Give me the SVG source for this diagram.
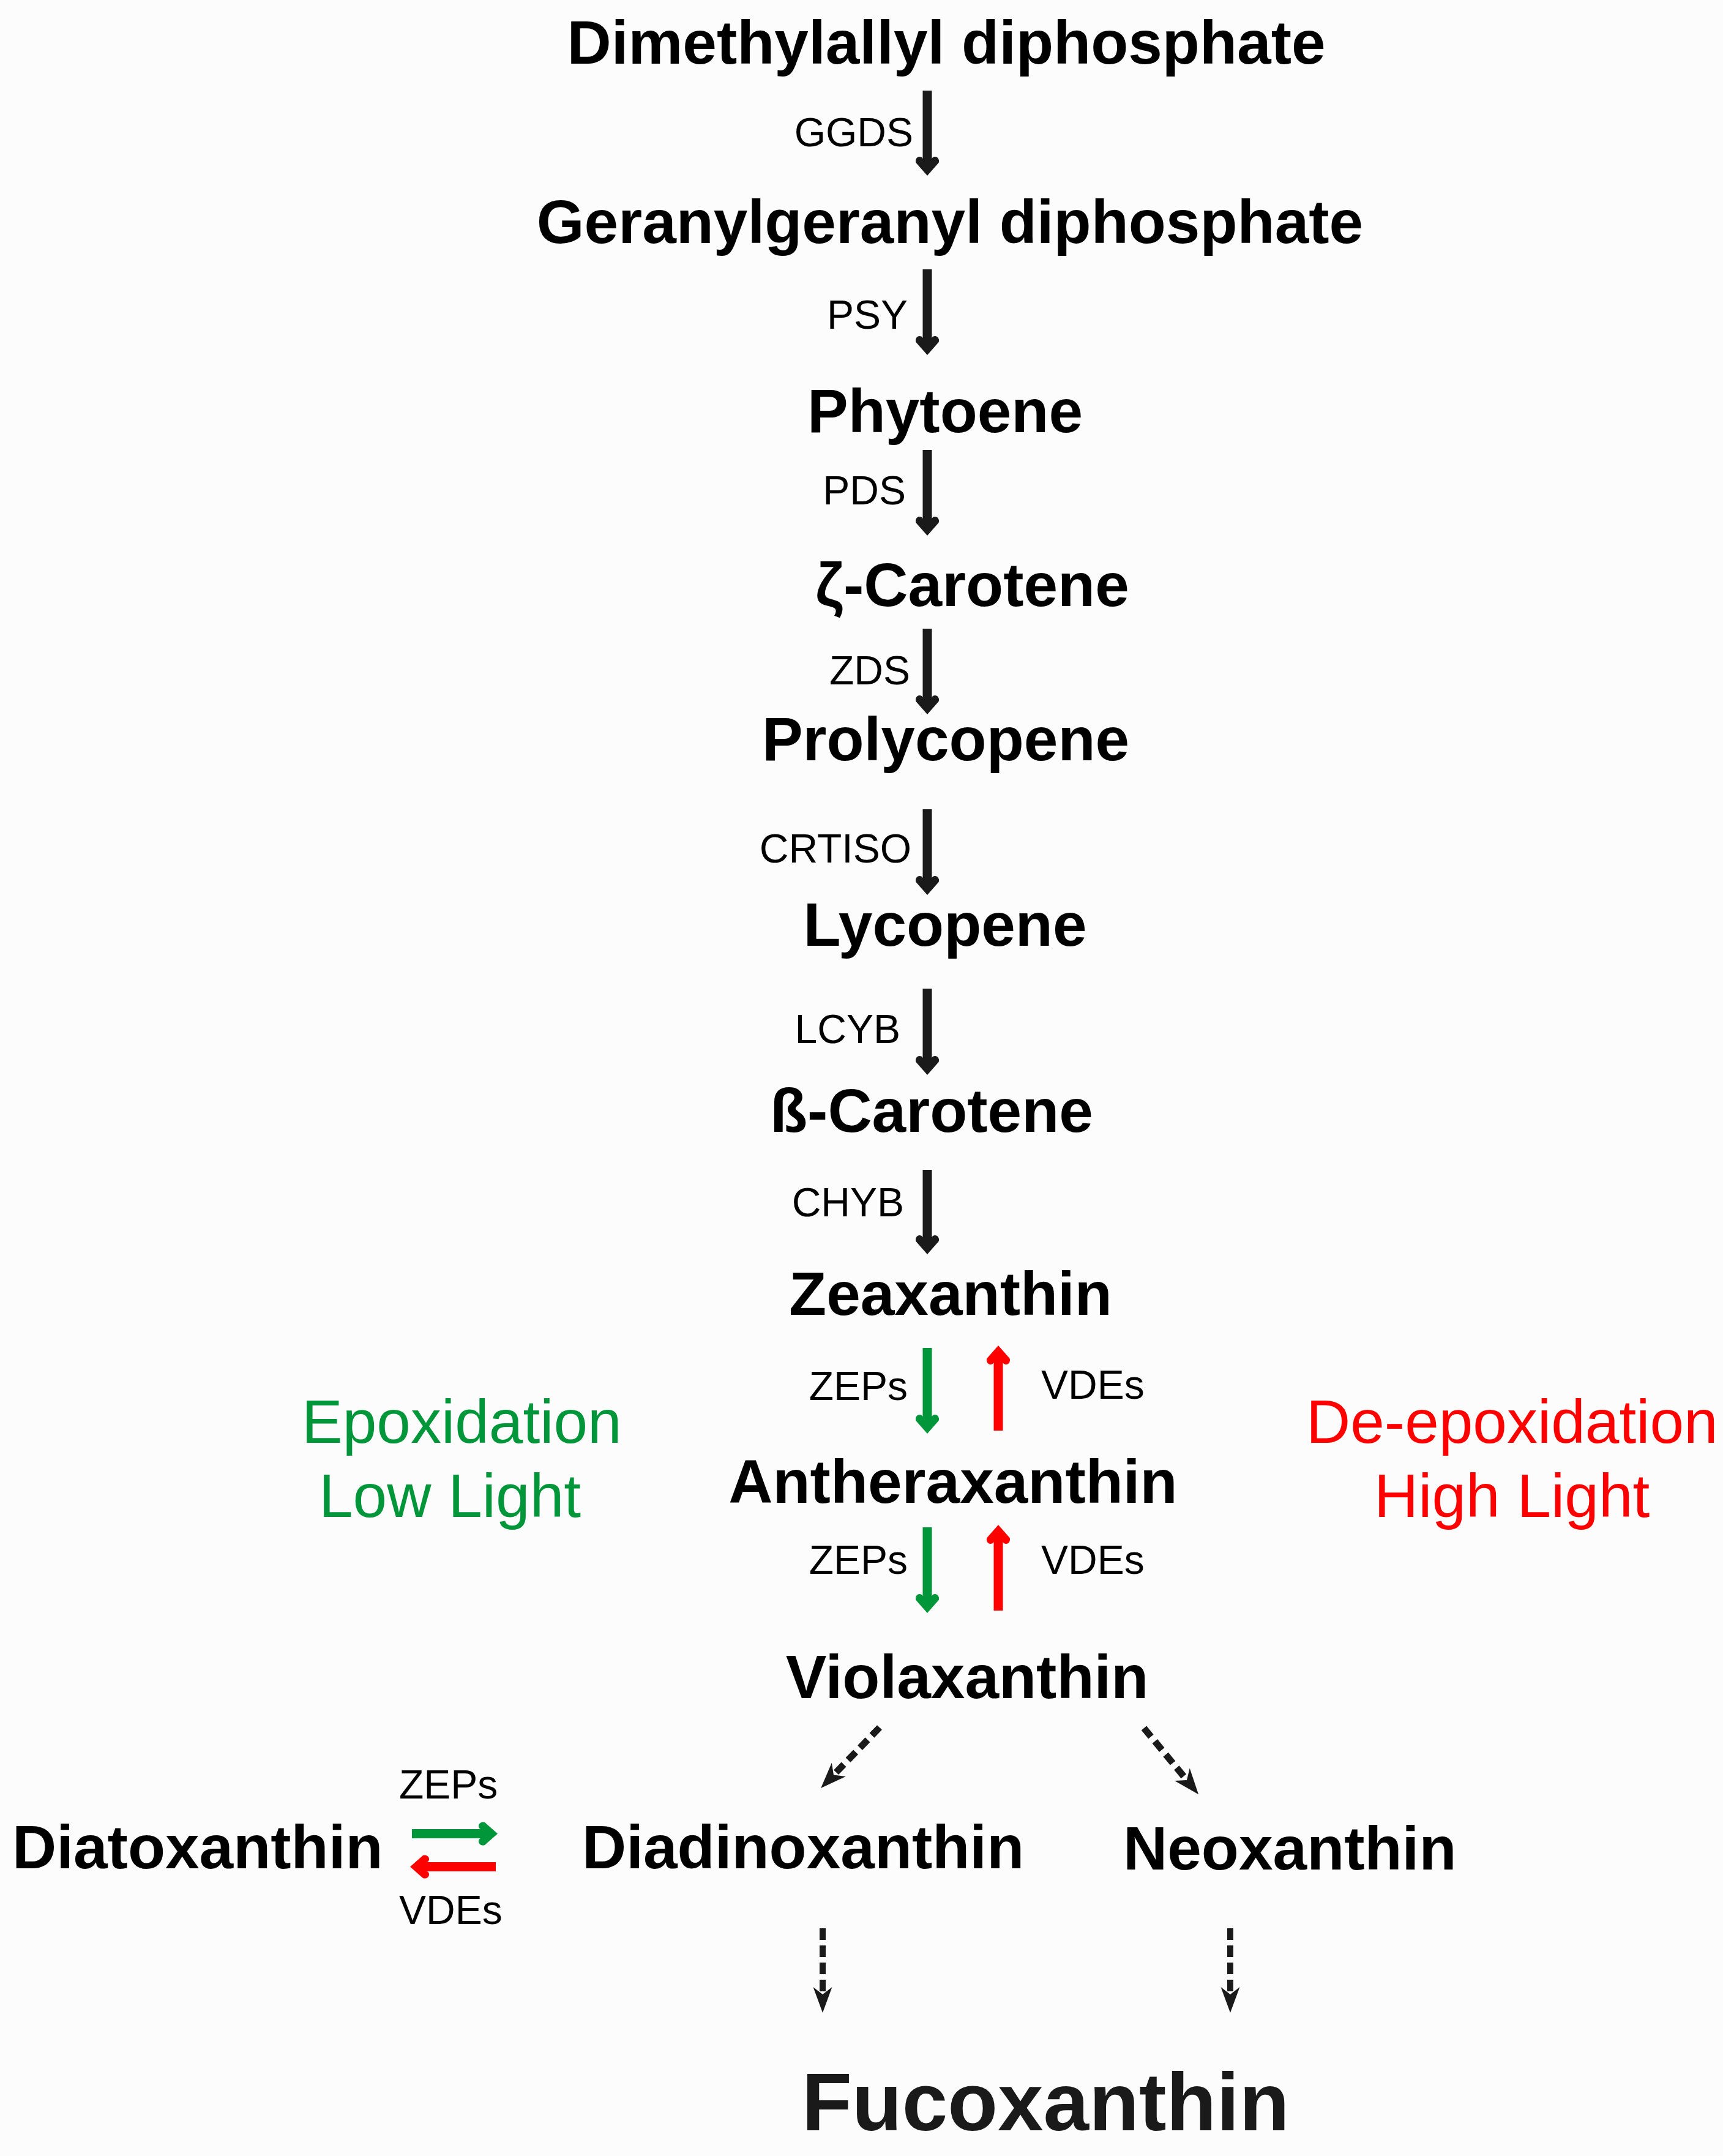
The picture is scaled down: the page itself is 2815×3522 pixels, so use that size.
<svg xmlns="http://www.w3.org/2000/svg" width="2815" height="3522" viewBox="0 0 2815 3522">
<style>
text{font-family:"Liberation Sans",Arial,Helvetica,sans-serif}
.c{font-weight:bold;font-size:100px;fill:#000}
.e{font-size:66px;fill:#000;text-anchor:end}
.s{font-size:66px;fill:#000}
.g{font-size:100px;fill:#009639}
.r{font-size:100px;fill:#ff0000}
.ab{stroke:#1a1a1a;stroke-width:15;fill:none;marker-end:url(#hb)}
.ag{stroke:#009639;stroke-width:15;fill:none;marker-end:url(#hg)}
.ar{stroke:#ff0000;stroke-width:15;fill:none;marker-end:url(#hr)}
.d{stroke:#1a1a1a;stroke-width:11;stroke-dasharray:18 10;fill:none;marker-end:url(#hd)}
.dv{stroke:#1a1a1a;stroke-width:10;stroke-dasharray:19 9;fill:none;marker-end:url(#hd2)}
</style>
<defs>
<marker id="hb" markerUnits="userSpaceOnUse" orient="auto" viewBox="-5 -25 45 50" markerWidth="45" markerHeight="50" refX="4" refY="0">
<path fill="#1a1a1a" d="M3,7.5 C0,9 -1,13 1,16 C3.5,19.5 8,19.5 10,18.5 L31,0 L10,-18.5 C8,-19.5 3.5,-19.5 1,-16 C-1,-13 0,-9 3,-7.5 Z"/>
</marker>
<marker id="hg" markerUnits="userSpaceOnUse" orient="auto" viewBox="-5 -25 45 50" markerWidth="45" markerHeight="50" refX="4" refY="0">
<path fill="#009639" d="M3,7.5 C0,9 -1,13 1,16 C3.5,19.5 8,19.5 10,18.5 L31,0 L10,-18.5 C8,-19.5 3.5,-19.5 1,-16 C-1,-13 0,-9 3,-7.5 Z"/>
</marker>
<marker id="hr" markerUnits="userSpaceOnUse" orient="auto" viewBox="-5 -25 45 50" markerWidth="45" markerHeight="50" refX="4" refY="0">
<path fill="#ff0000" d="M3,7.5 C0,9 -1,13 1,16 C3.5,19.5 8,19.5 10,18.5 L31,0 L10,-18.5 C8,-19.5 3.5,-19.5 1,-16 C-1,-13 0,-9 3,-7.5 Z"/>
</marker>
<marker id="hd" markerUnits="userSpaceOnUse" orient="auto" viewBox="-15 -20 50 40" markerWidth="50" markerHeight="40" refX="0" refY="0">
<path fill="#1a1a1a" d="M30,0 L-12,-16 L0,0 L-12,16 Z"/>
</marker>
<marker id="hd2" markerUnits="userSpaceOnUse" orient="auto" viewBox="-15 -20 50 40" markerWidth="50" markerHeight="40" refX="0" refY="0">
<path fill="#1a1a1a" d="M30,0 L-12,-15.5 L0,0 L-12,15.5 Z"/>
</marker>
</defs>
<rect x="0" y="0" width="2815" height="3522" fill="#fcfcfc"/>

<g id="n-dmapp"><text class="c" x="1546" y="104" text-anchor="middle">Dimethylallyl diphosphate</text></g>
<g id="n-ggpp"><text class="c" x="1552" y="397" text-anchor="middle">Geranylgeranyl diphosphate</text></g>
<g id="n-phytoene"><text class="c" x="1544" y="706" text-anchor="middle">Phytoene</text></g>
<g id="n-zcarotene"><text class="c" x="1332" y="990">ζ-Carotene</text></g>
<g id="n-prolycopene"><text class="c" x="1545" y="1242" text-anchor="middle">Prolycopene</text></g>
<g id="n-lycopene"><text class="c" x="1544" y="1545" text-anchor="middle">Lycopene</text></g>
<g id="n-bcarotene"><text class="c" x="1258" y="1849">ß-Carotene</text></g>
<g id="n-zeaxanthin"><text class="c" x="1553" y="2148" text-anchor="middle">Zeaxanthin</text></g>
<g id="n-antheraxanthin"><text class="c" x="1557" y="2455" text-anchor="middle">Antheraxanthin</text></g>
<g id="n-violaxanthin"><text class="c" x="1580" y="2774" text-anchor="middle">Violaxanthin</text></g>
<g id="n-diatoxanthin"><text class="c" x="20" y="3052">Diatoxanthin</text></g>
<g id="n-diadinoxanthin"><text class="c" x="951" y="3052">Diadinoxanthin</text></g>
<g id="n-neoxanthin"><text class="c" x="1835" y="3054">Neoxanthin</text></g>
<g id="n-fucoxanthin"><text x="1310" y="3480" style="font-weight:bold;font-size:134px;fill:#1a1a1a">Fucoxanthin</text></g>

<g id="n-epox"><text class="g" x="493" y="2357">Epoxidation</text><text class="g" x="521" y="2478">Low Light</text></g>
<g id="n-deepox"><text class="r" x="2134" y="2357">De-epoxidation</text><text class="r" x="2245" y="2478">High Light</text></g>

<g id="labels">
<text class="e" x="1492" y="239">GGDS</text>
<text class="e" x="1483" y="537">PSY</text>
<text class="e" x="1480" y="824">PDS</text>
<text class="e" x="1487" y="1118">ZDS</text>
<text class="e" x="1489" y="1409">CRTISO</text>
<text class="e" x="1471" y="1704">LCYB</text>
<text class="e" x="1477" y="1987">CHYB</text>
<text class="e" x="1483" y="2287">ZEPs</text>
<text class="s" x="1701" y="2285">VDEs</text>
<text class="e" x="1483" y="2571">ZEPs</text>
<text class="s" x="1701" y="2571">VDEs</text>
<text class="s" x="652" y="2938">ZEPs</text>
<text class="s" x="652" y="3143">VDEs</text>
</g>

<g id="connectors">
<path class="ab" d="M1515,148 V260"/>
<path class="ab" d="M1515,440 V553"/>
<path class="ab" d="M1515,735 V848"/>
<path class="ab" d="M1515,1027 V1140"/>
<path class="ab" d="M1515,1322 V1435"/>
<path class="ab" d="M1515,1615 V1729"/>
<path class="ab" d="M1515,1911 V2022"/>
<path class="ag" d="M1515,2202 V2315"/>
<path class="ag" d="M1515,2495 V2608"/>
<path class="ar" d="M1631,2337 V2225"/>
<path class="ar" d="M1631,2631 V2518"/>
<path class="ag" d="M673,2995.5 H786"/>
<path class="ar" d="M810,3049.5 H697"/>
<path class="d" d="M1437,2822 L1362,2899.5"/>
<path class="d" d="M1869,2823 L1939,2908"/>
<path class="dv" d="M1344,3150 V3258"/>
<path class="dv" d="M2010,3150 V3258"/>
</g>
</svg>
